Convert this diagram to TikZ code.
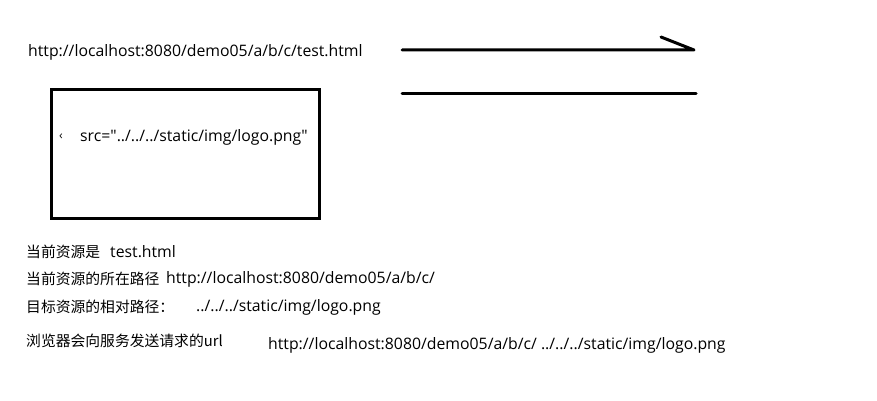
\documentclass[tikz,border=0pt]{standalone}
\usepackage{fontspec}
\setmainfont{Open Sans}[Ligatures=TeXOff]
\newfontfamily\cjk{Noto Sans CJK SC}
\tikzset{
  txt/.style={anchor=west, inner sep=0pt, font=\fontsize{15.8}{18}\selectfont},
  zh/.style={anchor=west, inner sep=0pt, font=\cjk\fontsize{14.8}{17}\selectfont},
  pen/.style={line width=3pt, line cap=round, line join=round}
}
\begin{document}
\begin{tikzpicture}[x=1pt, y=-1pt]
  \useasboundingbox[fill=white] (0,0) rectangle (877,401);

  % request url
  \node[txt] (url) at (28,52) {http://localhost:8080/demo05/a/b/c/test.html};

  % page with the img tag
  \draw[line width=3pt] (51,90) rectangle (319,218);
  \node[txt, font=\fontsize{12}{14}\selectfont] (lt) at (59,137) {‹};
  \node[txt] (src) at (80,137) {src="../../../static/img/logo.png"};

  % hand drawn arrow
  \coordinate (a1) at (402,50);
  \coordinate (a2) at (694,50);
  \coordinate (a3) at (661,37);
  \coordinate (b1) at (402,94);
  \coordinate (b2) at (696,94);
  \draw[pen] (a1) -- (a2) -- (a3);
  \draw[pen] (b1) -- (b2);

  % explanation
  \node[zh] (cur) at (26,252) {当前资源是};
  \node[txt] (curv) at (110,252) {test.html};
  \node[zh] (dir) at (26,279) {当前资源的所在路径};
  \node[txt] (dirv) at (166,279) {http://localhost:8080/demo05/a/b/c/};
  \node[zh] (rel) at (26,307) {目标资源的相对路径：};
  \node[txt] (relv) at (196,307) {../../../static/img/logo.png};
  \node[zh] (req) at (26,341) {浏览器会向服务发送请求的url};
  \node[txt] (reqv) at (268,345) {http://localhost:8080/demo05/a/b/c/ ../../../static/img/logo.png};
\end{tikzpicture}
\end{document}
